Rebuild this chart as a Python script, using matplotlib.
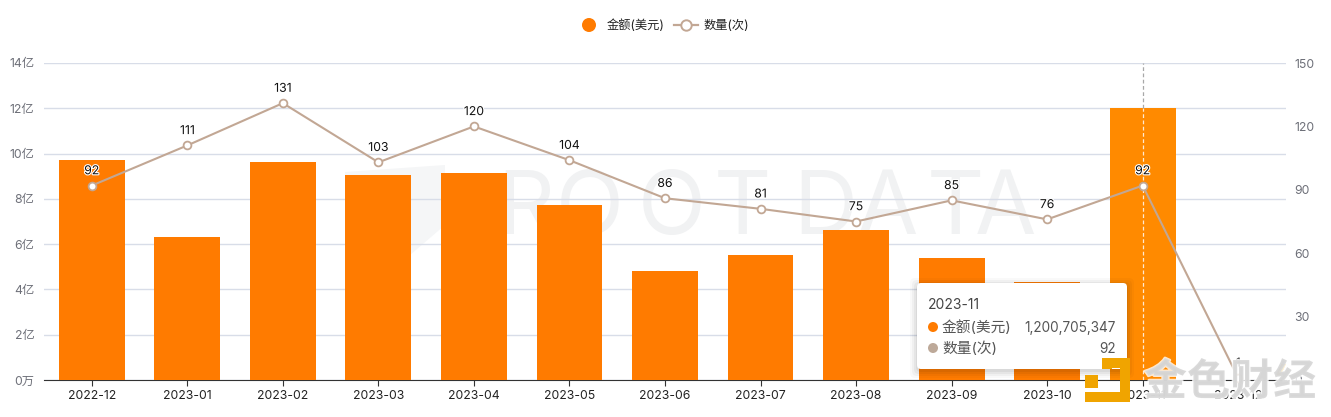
import matplotlib
matplotlib.use('Agg')
import matplotlib.pyplot as plt
import matplotlib.patheffects as pe
from matplotlib.patches import FancyBboxPatch, Polygon, Circle

plt.rcParams['font.family'] = ['Inter', 'Noto Sans CJK SC', 'DejaVu Sans']

months = ['2022-12', '2023-01', '2023-02', '2023-03', '2023-04', '2023-05',
          '2023-06', '2023-07', '2023-08', '2023-09', '2023-10', '2023-11', '2023-12']
amounts = [9.72, 6.32, 9.63, 9.05, 9.14, 7.73, 4.81, 5.52, 6.63, 5.39, 4.33, 12.007, 0.02]
counts = [92, 111, 131, 103, 120, 104, 86, 81, 75, 85, 76, 92, 1]
left_ticks = [0, 2, 4, 6, 8, 10, 12, 14]
left_labels = ['0万', '2亿', '4亿', '6亿', '8亿', '10亿', '12亿', '14亿']
right_ticks = [0, 30, 60, 90, 120, 150]

W, H = 1331, 417
ORANGE = '#ff7b00'
LINE = '#c2a794'

fig = plt.figure(figsize=(W / 100, H / 100), dpi=100)
ax = fig.add_axes([44 / W, 1 - 380 / H, 1242 / W, 317 / H])
ax2 = ax.twinx()
ax2.set_position(ax.get_position())

# bars
x = list(range(len(months)))
colors = [ORANGE] * len(months)
colors[11] = '#ff8a00'
ax.bar(x, amounts, width=0.69, color=colors, zorder=3)
ax.set_xlim(-0.5, len(months) - 0.5)
ax.set_ylim(0, 14)
ax.set_xticks(x, months)
ax.set_yticks(left_ticks, left_labels)
ax.grid(axis='y', color='#d8dde8', linewidth=1, zorder=0)
ax.tick_params(axis='y', length=0, labelsize=8.8, labelcolor='#6e7079', pad=7)
ax.tick_params(axis='x', length=4, color='#333333', labelsize=8.8, labelcolor='#222222', pad=3)
for s in ['top', 'left', 'right']:
    ax.spines[s].set_visible(False)
ax.spines['bottom'].set_color('#333333')

# hover line, white over the bar and gray above it
ax.plot([11, 11], [0, amounts[11]], color='#ffe9d0', linewidth=0.9, linestyle=(0, (3, 2)), zorder=4)
ax.plot([11, 11], [amounts[11], 14], color='#a8a8a8', linewidth=0.9, linestyle=(0, (3, 2)), zorder=4)

# line series
ax2.plot(x, counts, color=LINE, linewidth=1.5, marker='o', markersize=5.6,
         markerfacecolor='white', markeredgecolor=LINE, markeredgewidth=1.3, zorder=5, clip_on=False)
ax2.set_ylim(0, 150)
ax2.set_yticks(right_ticks)
ax2.tick_params(axis='y', length=0, labelsize=8.8, labelcolor='#6e7079', pad=6)
for s in ax2.spines.values():
    s.set_visible(False)
ax.set_zorder(1)
ax2.set_zorder(2)
ax2.patch.set_visible(False)
for xi, c in zip(x, counts):
    ax2.annotate(str(c), (xi, c), xytext=(0, 6), textcoords='offset points', ha='center', va='bottom',
                 fontsize=8.8, color='#111111', zorder=6,
                 path_effects=[pe.withStroke(linewidth=1.6, foreground='white')])

# overlay in pixel coordinates
ov = fig.add_axes([0, 0, 1, 1], zorder=5)
ov.set_xlim(0, W)
ov.set_ylim(H, 0)
ov.axis('off')
ov.patch.set_alpha(0)

# background watermark
bg = fig.add_axes([0, 0, 1, 1], zorder=0)
bg.set_xlim(0, W)
bg.set_ylim(H, 0)
bg.axis('off')
bg.add_patch(Polygon([(345, 172), (445, 165), (445, 225), (395, 268), (345, 225)],
                     closed=True, color='#f5f6f7', lw=0))
for ch, cx in zip('ROOTDATA', [526, 590, 672, 742, 825, 887, 955, 1005]):
    bg.text(cx, 211, ch, fontsize=64, color='#f1f2f3', ha='center', va='center',
            family='Inter', fontweight='normal')
ax.patch.set_visible(False)

# legend
ov.add_patch(Circle((589, 25), 7, color=ORANGE, lw=0))
ov.text(607, 26, '金额(美元)', fontsize=8.8, color='#222222', va='center')
ov.plot([674, 698], [25, 25], color=LINE, linewidth=1.6)
ov.plot([686], [25], 'o', markersize=7.5, markerfacecolor='white', markeredgecolor=LINE, markeredgewidth=1.4)
ov.text(704, 26, '数量(次)', fontsize=8.8, color='#222222', va='center')

# tooltip
for grow, alpha in [(7, 0.025), (5, 0.035), (3, 0.045), (1, 0.05)]:
    ov.add_patch(FancyBboxPatch((917 - grow, 283 - grow + 2), 210 + 2 * grow, 86 + 2 * grow,
                                boxstyle='round,pad=0,rounding_size=5', fc='black', ec='none', alpha=alpha))
ov.add_patch(FancyBboxPatch((917, 283), 210, 86, boxstyle='round,pad=0,rounding_size=4', fc='white', ec='none'))
ov.text(928, 305, '2023-11', fontsize=10, color='#444444', va='center')
ov.add_patch(Circle((933, 327), 5, color=ORANGE, lw=0))
ov.text(942, 328, '金额(美元)', fontsize=10.6, color='#555555', va='center')
ov.text(1116, 328, '1,200,705,347', fontsize=9.8, color='#555555', va='center', ha='right')
ov.add_patch(Circle((933, 348), 5, color='#bda999', lw=0))
ov.text(942, 349, '数量(次)', fontsize=10.6, color='#555555', va='center')
ov.text(1116, 349, '92', fontsize=9.8, color='#555555', va='center', ha='right')

# 金色财经 watermark
GOLD = '#f0a400'
ov.add_patch(Polygon([(1102, 358), (1130, 358), (1130, 402), (1085, 402), (1085, 392), (1120, 392),
                      (1120, 368), (1112, 368), (1112, 369), (1102, 369)],
                     closed=True, color=GOLD, lw=0))
ov.add_patch(Polygon([(1085, 375), (1098, 375), (1098, 388), (1085, 388)], closed=True, color=GOLD, lw=0))
ov.text(1230, 382, '金色财经', fontsize=31, color='#d6d6d6', ha='center', va='center', fontweight='bold',
        family='Noto Sans CJK SC', alpha=0.9,
        path_effects=[pe.withStroke(linewidth=2, foreground='white', alpha=0.8)])
ov.add_patch(Polygon([(1281, 364), (1286, 364), (1280, 376), (1276, 376)], closed=True, color=GOLD, lw=0))

fig.savefig('out.png', dpi=100)
